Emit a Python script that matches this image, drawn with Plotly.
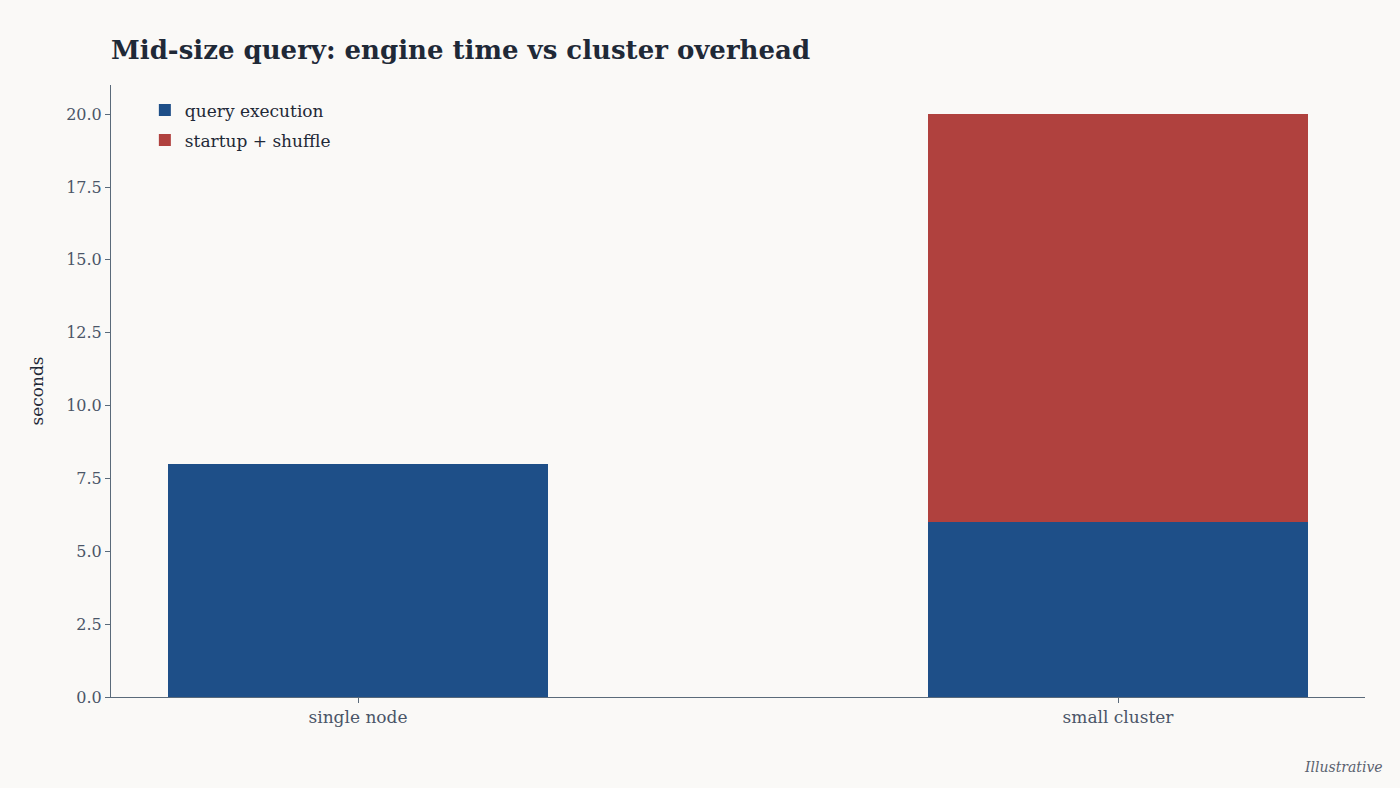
import plotly.graph_objects as go

categories = ["single node", "small cluster"]
query_execution = [8.0, 6.0]
startup_shuffle = [0.0, 14.0]
y_ticks = [0, 2.5, 5, 7.5, 10, 12.5, 15, 17.5, 20]

FONT = "Georgia, 'DejaVu Serif', serif"
BG = "#faf9f7"

fig = go.Figure()
fig.add_trace(go.Bar(x=categories, y=query_execution, name="query execution",
                     legendgroup="a",
                     marker=dict(color="#1e4f88", line=dict(width=0)), width=0.5))
fig.add_trace(go.Bar(x=categories, y=startup_shuffle, name="startup + shuffle",
                     legendgroup="b",
                     marker=dict(color="#b0413e", line=dict(width=0)), width=0.5))

fig.update_layout(
    barmode="stack",
    width=1400, height=788,
    paper_bgcolor=BG, plot_bgcolor=BG,
    margin=dict(l=111, r=35, t=85, b=91),
    font=dict(family=FONT, color="#4a5568"),
    title=dict(text="<b>Mid-size query: engine time vs cluster overhead</b>",
               x=111/1400, xanchor="left", y=1 - 50/788, yanchor="middle",
               font=dict(size=26, color="#1f2937", family=FONT)),
    legend=dict(x=0.027, y=0.988, xanchor="left", yanchor="top",
                bgcolor="rgba(0,0,0,0)", font=dict(size=17, color="#1f2937"),
                traceorder="grouped", tracegroupgap=5),
    showlegend=True,
    bargap=0.5,
)
fig.update_xaxes(range=[-0.325, 1.325], showline=True, linecolor="#5a6a7a", linewidth=1,
                 ticks="outside", ticklen=5, tickcolor="#5a6a7a",
                 tickfont=dict(size=17, color="#4a5568"), showgrid=False)
fig.update_yaxes(range=[0, 21], tickvals=y_ticks, tickformat=".1f",
                 showline=True, linecolor="#5a6a7a", linewidth=1,
                 ticks="outside", ticklen=5, tickcolor="#5a6a7a",
                 tickfont=dict(size=16, color="#4a5568"), showgrid=False, zeroline=False,
                 title=dict(text="seconds", font=dict(size=17, color="#1f2937"), standoff=18))
fig.add_annotation(text="<i>Illustrative</i>", xref="paper", yref="paper",
                   x=(1385-111)/(1400-111-35), y=-(767-697)/(788-85-91),
                   xanchor="right", yanchor="middle", showarrow=False,
                   font=dict(size=14, color="#5a6270", family=FONT))
fig.write_html("out.html")
